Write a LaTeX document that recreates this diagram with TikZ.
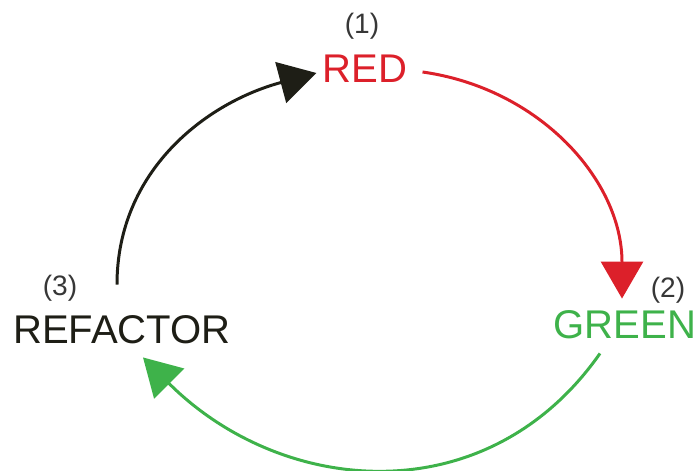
\documentclass[tikz,border=0pt]{standalone}
\usepackage{fontspec}
\setmainfont{Liberation Sans}
\usetikzlibrary{arrows.meta}

\definecolor{tddred}{RGB}{220, 32, 42}
\definecolor{tddgreen}{RGB}{62, 178, 74}
\definecolor{tddblack}{RGB}{30, 30, 22}
\definecolor{tddgray}{RGB}{55, 55, 55}

\begin{document}
\begin{tikzpicture}[
	phase/.style = {inner sep = 3pt, font = \fontsize{11.4}{13}\selectfont},
	number/.style = {inner sep = 1pt, text = tddgray, font = \fontsize{8}{10}\selectfont},
	cycle/.style = {line width = 0.85pt, -{Triangle[length = 0.37cm, width = 0.42cm]}}
	]
	\useasboundingbox (0, 0) rectangle (6.99, 4.70);
	
	\node[phase, text = tddred] (red) at (3.65, 4.01) {RED};
	\node[phase, text = tddgreen] (green) at (6.25, 1.45) {GREEN};
	\node[phase, text = tddblack] (refactor) at (1.22, 1.40) {REFACTOR};
	
	\node[number] (one) at (3.62, 4.44) {(1)};
	\node[number] (two) at (6.68, 1.80) {(2)};
	\node[number] (three) at (0.60, 1.82) {(3)};
	
	\draw[cycle, tddred] ([xshift = 0.04cm, yshift = -0.03cm]red.east) to[out = -8, in = 90] ([xshift = -0.03cm, yshift = 0.01cm]green.north);
	
	\draw[cycle, tddgreen] ([xshift = -0.25cm, yshift = -0.03cm]green.south) to[out = -125, in = -45, looseness = 1.1] ([xshift = 0.21cm, yshift = -0.02cm]refactor.south);
	
	\draw[cycle, tddblack] ([xshift = -0.05cm, yshift = 0.2cm]refactor.north) to[out = 90, in = 195] ([xshift = 0.05cm, yshift = -0.04cm]red.west);
\end{tikzpicture}
\end{document}
